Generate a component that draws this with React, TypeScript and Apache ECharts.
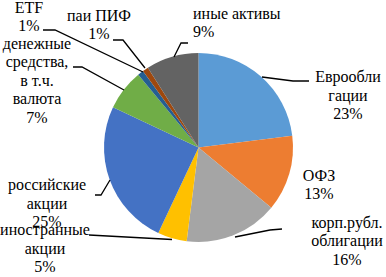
import React, { useEffect, useRef } from "react";
import * as echarts from "echarts";

const categories = [
  "Еврооблигации",
  "ОФЗ",
  "корп.рубл. облигации",
  "иностранные акции",
  "российские акции",
  "денежные средства, в т.ч. валюта",
  "ETF",
  "паи ПИФ",
  "иные активы",
];
// label lines as printed (wrapped like the reference)
const labelLines: string[][] = [
  ["Еврообли", "гации"],
  ["ОФЗ"],
  ["корп.рубл.", "облигации"],
  ["иностранные", "акции"],
  ["российские", "акции"],
  ["денежные", "средства,", "в т.ч.", "валюта"],
  ["ETF"],
  ["паи ПИФ"],
  ["иные активы"],
];
const values = [23, 13, 16, 5, 25, 7, 1, 1, 9];
const colors = [
  "#5B9BD5",
  "#ED7D31",
  "#A5A5A5",
  "#FFC000",
  "#4472C4",
  "#70AD47",
  "#255E91",
  "#9E480E",
  "#636363",
];

// layout: label anchor x, first-line middle y, alignment
const labelAnchors: [number, number, string][] = [
  [348, 76.5, "center"],
  [319, 175, "center"],
  [347, 222, "center"],
  [45, 229.5, "center"],
  [47, 184.5, "center"],
  [37, 43, "center"],
  [29, 7, "center"],
  [99, 15, "center"],
  [193, 13, "left"],
];
const LINE_H = 18.6;

// leader lines (layout)
const leaderLines: number[][][] = [
  [[262, 77], [293, 81], [309, 81]],
  [],
  [[235, 237], [270, 230], [282, 229]],
  [[89, 235], [172, 239.5]],
  [[95, 195], [101, 195], [110, 180]],
  [[73, 67], [82, 67], [124, 90]],
  [[43, 30], [55, 30], [143, 72]],
  [[113, 40], [123, 40], [145, 68]],
  [[188, 43], [181, 43], [174, 57]],
];

const FONT = "16px Liberation Serif";

export default function App() {
  const ref = useRef<HTMLDivElement>(null);
  useEffect(() => {
    if (!ref.current) return;
    document.body.style.margin = "0";
    const chart = echarts.init(ref.current, undefined, { renderer: "svg" });

    const graphic: any[] = [];
    leaderLines.forEach((pts) => {
      if (pts.length < 2) return;
      graphic.push({
        type: "polyline",
        shape: { points: pts },
        style: { stroke: "#000", lineWidth: 1.3, fill: null },
        z: 10,
      });
    });
    labelLines.forEach((lines, i) => {
      const [x, y0, align] = labelAnchors[i];
      const all = [...lines, `${values[i]}%`];
      all.forEach((s, k) => {
        graphic.push({
          type: "text",
          x,
          y: y0 + k * LINE_H,
          z: 11,
          style: {
            text: s,
            font: FONT,
            fill: "#000",
            align,
            verticalAlign: "middle",
          },
        });
      });
    });

    chart.setOption({
      animation: false,
      backgroundColor: "#fff",
      series: [
        {
          type: "pie",
          center: [198.5, 147.5],
          radius: 94.5,
          startAngle: 90,
          clockwise: true,
          label: { show: false },
          labelLine: { show: false },
          data: categories.map((name, i) => ({
            name,
            value: values[i],
            itemStyle: { color: colors[i] },
          })),
        },
      ],
      graphic,
    });
    return () => chart.dispose();
  }, []);
  return <div ref={ref} style={{ width: 386, height: 277 }} />;
}
